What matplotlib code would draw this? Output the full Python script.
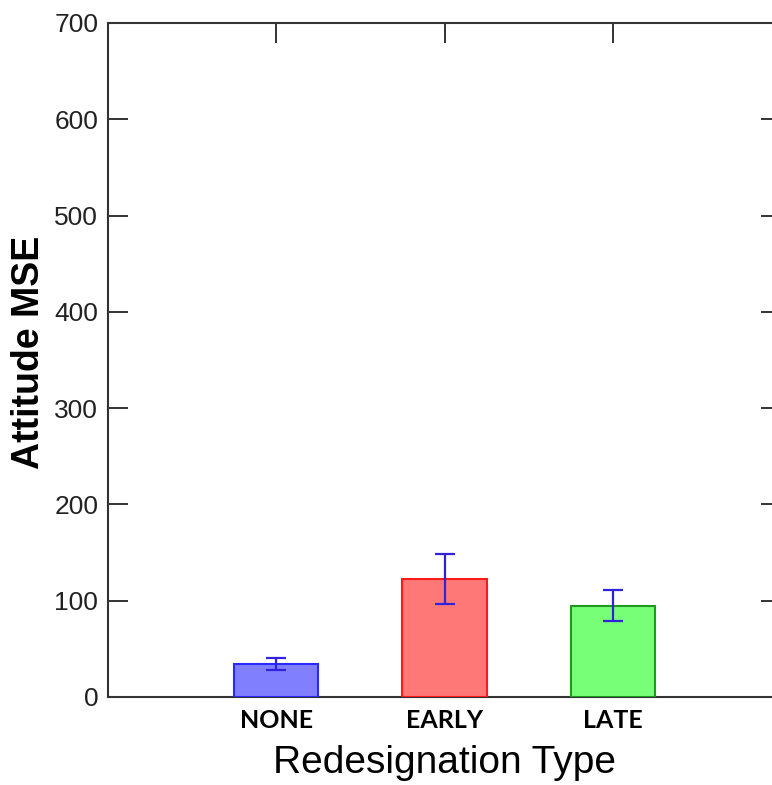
import numpy as np
import matplotlib
matplotlib.use("Agg")
import matplotlib.pyplot as plt

# redesignation groups and their mean attitude error
categories = ["NONE", "EARLY", "LATE"]
mse_mean = [34, 123, 95]
mse_err = [6, 26, 16]

fill_colors = ["#8080ff", "#ff7878", "#78ff78"]
edge_colors = ["#2a2aff", "#ff1a1a", "#1e9a1e"]
yticks = [0, 100, 200, 300, 400, 500, 600, 700]

fig = plt.figure(figsize=(7.72, 7.85), dpi=100)
# the right spine sits just past the edge of the figure
ax = fig.add_axes([108 / 772, 88 / 785, 673 / 772, 674 / 785])

x = np.arange(1, len(categories) + 1)
ax.bar(x, mse_mean, width=0.5, color=fill_colors, edgecolor=edge_colors,
       linewidth=1.5, zorder=3)
ax.errorbar(x, mse_mean, yerr=mse_err, fmt="none", ecolor="#3322dd",
            elinewidth=1.6, capsize=7, capthick=1.6, zorder=4)

ax.set_xlim(0, 4)
ax.set_ylim(0, 700)
ax.set_yticks(yticks)
ax.set_xticks(x)
ax.set_xticklabels(categories, fontfamily="Lato", fontweight="bold", fontsize=18)

for lab in ax.get_yticklabels():
    lab.set_fontfamily("Liberation Sans")
    lab.set_fontsize(19)
    lab.set_color("#222222")

ax.tick_params(axis="both", direction="in", length=14.5, width=1.4,
               color="#333333", top=True, right=True)
ax.tick_params(axis="y", pad=7)
ax.tick_params(axis="x", pad=9)
for sp in ax.spines.values():
    sp.set_linewidth(1.5)
    sp.set_color("#333333")

fig.text(29 / 772, 1 - 352 / 785, "Attitude MSE", rotation=90,
         ha="center", va="center", fontfamily="Liberation Sans",
         fontweight="bold", fontsize=27)
fig.text(444 / 772, (785 - 773) / 785, "Redesignation Type", ha="center",
         va="baseline", fontfamily="Liberation Sans", fontsize=28)

fig.savefig("out.png", dpi=100)
